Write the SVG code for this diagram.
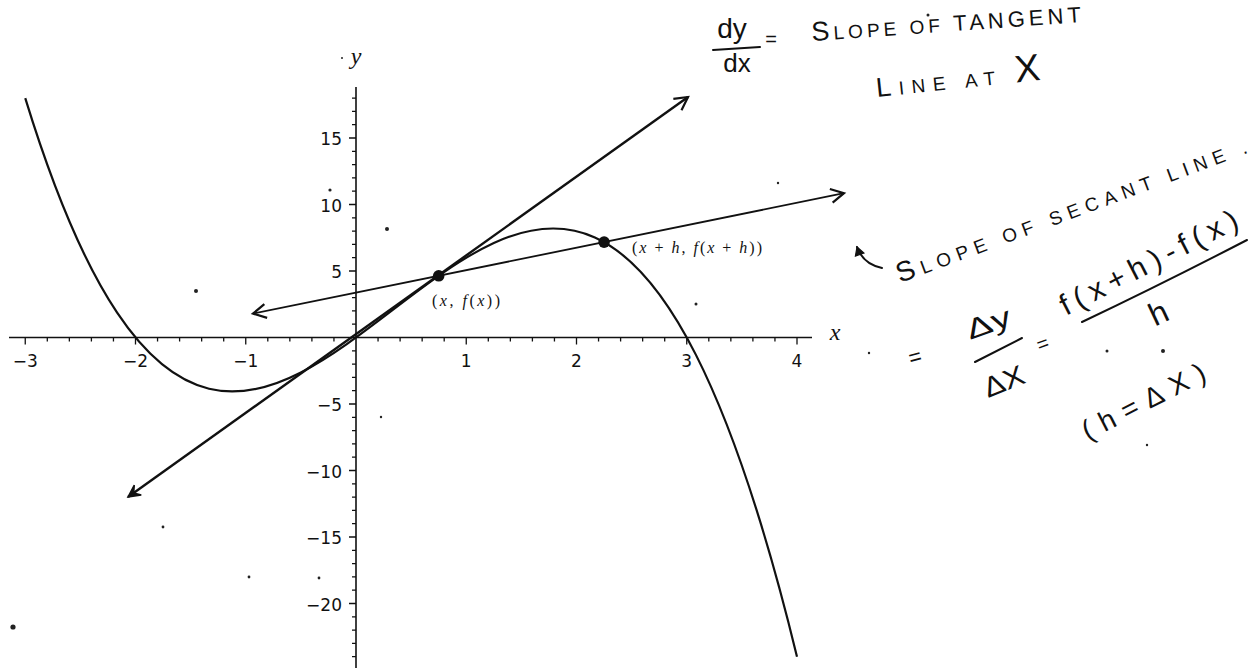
<svg xmlns="http://www.w3.org/2000/svg" width="1256" height="668" viewBox="0 0 1256 668">
<style>
.axis{stroke:#111;stroke-width:1.6;fill:none}
.tick{stroke:#111;stroke-width:1.3;fill:none}
.tl{font-family:"DejaVu Sans",sans-serif;font-size:17px;fill:#111}
.curve{stroke:#111;stroke-width:2.2;fill:none}
.tan{stroke:#111;stroke-width:2.4;fill:none}
.sec{stroke:#111;stroke-width:1.8;fill:none}
.math{font-family:"Liberation Serif",serif;font-size:16px;fill:#111}
.lab{font-family:"Liberation Serif",serif;font-style:italic;fill:#111}
.hw{font-family:"Liberation Sans",sans-serif;fill:#111}
.hwl{stroke:#111;stroke-width:2;fill:none;stroke-linecap:round}
.pt{fill:#111}
.speck{fill:#222}
</style>
<defs>
<marker id="open" viewBox="-16 -9 18 18" refX="0" refY="0" markerWidth="18" markerHeight="18" markerUnits="userSpaceOnUse" orient="auto-start-reverse" overflow="visible">
<path d="M-13,-7 L0,0 L-13,7" fill="none" stroke="#111" stroke-width="2.2" stroke-linejoin="miter"/>
</marker>
<marker id="solid" viewBox="-16 -9 18 18" refX="0" refY="0" markerWidth="18" markerHeight="18" markerUnits="userSpaceOnUse" orient="auto-start-reverse" overflow="visible">
<path d="M0,0 L-12,-6 L-7,0 L-12,6 Z" fill="#111" stroke="#111" stroke-width="1.5"/>
</marker>
<marker id="small" viewBox="-10 -6 12 12" refX="0" refY="0" markerWidth="12" markerHeight="12" markerUnits="userSpaceOnUse" orient="auto" overflow="visible">
<path d="M0,0 L-8,-4.5 L-8,4.5 Z" fill="#111" stroke="#111" stroke-width="1.2"/>
</marker>
</defs>
<rect width="1256" height="668" fill="#fff"/>

<g id="axes">
<path class="axis" d="M9,337.5 H812 M356,87 V668"/>
<path class="tick" d="M25.25,337.5 v7 M135.5,337.5 v7 M245.75,337.5 v7 M466.25,337.5 v7 M576.5,337.5 v7 M686.75,337.5 v7 M797,337.5 v7"/>
<path class="tick" d="M47.3,337.5 v4 M69.35,337.5 v4 M91.4,337.5 v4 M113.45,337.5 v4 M157.55,337.5 v4 M179.6,337.5 v4 M201.65,337.5 v4 M223.7,337.5 v4 M267.8,337.5 v4 M289.85,337.5 v4 M311.9,337.5 v4 M333.95,337.5 v4 M378.05,337.5 v4 M400.1,337.5 v4 M422.15,337.5 v4 M444.2,337.5 v4 M488.3,337.5 v4 M510.35,337.5 v4 M532.4,337.5 v4 M554.45,337.5 v4 M598.55,337.5 v4 M620.6,337.5 v4 M642.65,337.5 v4 M664.7,337.5 v4 M708.8,337.5 v4 M730.85,337.5 v4 M752.9,337.5 v4 M774.95,337.5 v4"/>
<path class="tick" d="M349,138 h7 M349,204.5 h7 M349,271 h7 M349,404 h7 M349,470.5 h7 M349,537 h7 M349,603.5 h7"/>
<path class="tick" d="M352,98.1 h4 M352,111.4 h4 M352,124.7 h4 M352,151.3 h4 M352,164.6 h4 M352,177.9 h4 M352,191.2 h4 M352,217.8 h4 M352,231.1 h4 M352,244.4 h4 M352,257.7 h4 M352,284.3 h4 M352,297.6 h4 M352,310.9 h4 M352,324.2 h4 M352,350.8 h4 M352,364.1 h4 M352,377.4 h4 M352,390.7 h4 M352,417.3 h4 M352,430.6 h4 M352,443.9 h4 M352,457.2 h4 M352,483.8 h4 M352,497.1 h4 M352,510.4 h4 M352,523.7 h4 M352,550.3 h4 M352,563.6 h4 M352,576.9 h4 M352,590.2 h4 M352,616.8 h4 M352,630.1 h4 M352,643.4 h4 M352,656.7 h4"/>
<g class="tl" text-anchor="middle">
<text x="25.25" y="367">−3</text>
<text x="135.5" y="367">−2</text>
<text x="245.75" y="367">−1</text>
<text x="466.25" y="367">1</text>
<text x="576.5" y="367">2</text>
<text x="686.75" y="367">3</text>
<text x="797" y="367">4</text>
</g>
<g class="tl" text-anchor="end">
<text x="342" y="145">15</text>
<text x="342" y="211.5">10</text>
<text x="342" y="278">5</text>
<text x="342" y="411">−5</text>
<text x="342" y="477.5">−10</text>
<text x="342" y="544">−15</text>
<text x="342" y="610.5">−20</text>
</g>
<text class="lab" x="356" y="64" font-size="24" text-anchor="middle">y</text>
<text class="lab" x="835" y="340" font-size="24" text-anchor="middle">x</text>
</g>

<g id="curve">
<path class="curve" d="M25.25,98.1 C282.5,936 539.75,-398.43 797,656.7"/>
</g>

<g id="connectors">
<path id="tangent-line" class="tan" d="M128,497 L688,97" marker-start="url(#solid)" marker-end="url(#open)"/>
<path id="secant-line" class="sec" d="M253,313.6 L844,193.2" marker-start="url(#open)" marker-end="url(#open)"/>
</g>

<g id="point-x">
<circle class="pt" cx="438.7" cy="275.8" r="5.8"/>
<text class="math" x="432" y="306" textLength="68" lengthAdjust="spacing">(<tspan font-style="italic">x</tspan>, <tspan font-style="italic">f</tspan>(<tspan font-style="italic">x</tspan>))</text>
</g>

<g id="point-xh">
<circle class="pt" cx="604.1" cy="242.1" r="5.8"/>
<text class="math" x="632" y="253" textLength="130" lengthAdjust="spacing">(<tspan font-style="italic">x</tspan> + <tspan font-style="italic">h</tspan>, <tspan font-style="italic">f</tspan>(<tspan font-style="italic">x</tspan> + <tspan font-style="italic">h</tspan>))</text>
</g>

<g id="note-tangent">
<text class="hw" x="732" y="38" font-size="28" text-anchor="middle">dy</text>
<path class="hwl" d="M713,50 L760,47"/>
<text class="hw" x="737" y="72" font-size="26" text-anchor="middle">dx</text>
<text class="hw" x="771" y="46" font-size="20" text-anchor="middle">=</text>
<text class="hw" transform="translate(812,41) rotate(-4)" textLength="270" lengthAdjust="spacing"><tspan font-size="27">S</tspan><tspan font-size="19">LOPE OF </tspan><tspan font-size="22">TANGENT</tspan></text>
<text class="hw" transform="translate(877,97) rotate(-6)" textLength="165" lengthAdjust="spacing"><tspan font-size="27">L</tspan><tspan font-size="19">INE AT </tspan><tspan font-size="38">X</tspan></text>
</g>

<g id="note-secant">
<path class="hwl" d="M882,268 Q863,264 857,247" marker-end="url(#small)"/>
<text class="hw" transform="translate(900,283) rotate(-20.5)" textLength="372" lengthAdjust="spacing"><tspan font-size="28">S</tspan><tspan font-size="19">LOPE OF SECANT LINE .</tspan></text>
<text class="hw" transform="translate(917,364) rotate(-15)" font-size="22" text-anchor="middle">=</text>
<text class="hw" transform="translate(970,340) rotate(-20)" font-size="28" textLength="46" lengthAdjust="spacingAndGlyphs">Δy</text>
<path class="hwl" d="M975,362 L1022,338"/>
<text class="hw" transform="translate(988,398) rotate(-22)" font-size="28" textLength="42" lengthAdjust="spacingAndGlyphs">ΔX</text>
<text class="hw" transform="translate(1045,350) rotate(-20)" font-size="20" text-anchor="middle">=</text>
<text class="hw" transform="translate(1066,316) rotate(-27)" font-size="30" textLength="196" lengthAdjust="spacing">f(x+h)-f(x)</text>
<path class="hwl" d="M1082,322 Q1160,285 1247,240"/>
<text class="hw" transform="translate(1163,323) rotate(-25)" font-size="32" text-anchor="middle">h</text>
<text class="hw" transform="translate(1148,410) rotate(-27)" font-size="28" text-anchor="middle" textLength="135" lengthAdjust="spacing">(h=ΔX)</text>
</g>

<g id="specks">
<circle class="speck" cx="13" cy="627" r="2.6"/>
<circle class="speck" cx="387" cy="229" r="2"/>
<circle class="speck" cx="196" cy="291" r="2"/>
<circle class="speck" cx="330" cy="190" r="1.6"/>
<circle class="speck" cx="1107" cy="351" r="1.5"/>
<circle class="speck" cx="1163" cy="351" r="2"/>
<circle class="speck" cx="928" cy="15" r="1.5"/>
<circle class="speck" cx="696" cy="304" r="1.5"/>
<circle class="speck" cx="778" cy="183" r="1.2"/>
<circle class="speck" cx="1147" cy="445" r="1.2"/>
<circle class="speck" cx="163" cy="527" r="1.4"/>
<circle class="speck" cx="249" cy="577" r="1.4"/>
<circle class="speck" cx="319" cy="578" r="1.4"/>
<circle class="speck" cx="381" cy="417" r="1.2"/>
<circle class="speck" cx="869" cy="353" r="1.2"/>
<circle class="speck" cx="342" cy="58" r="1"/>
</g>
</svg>
